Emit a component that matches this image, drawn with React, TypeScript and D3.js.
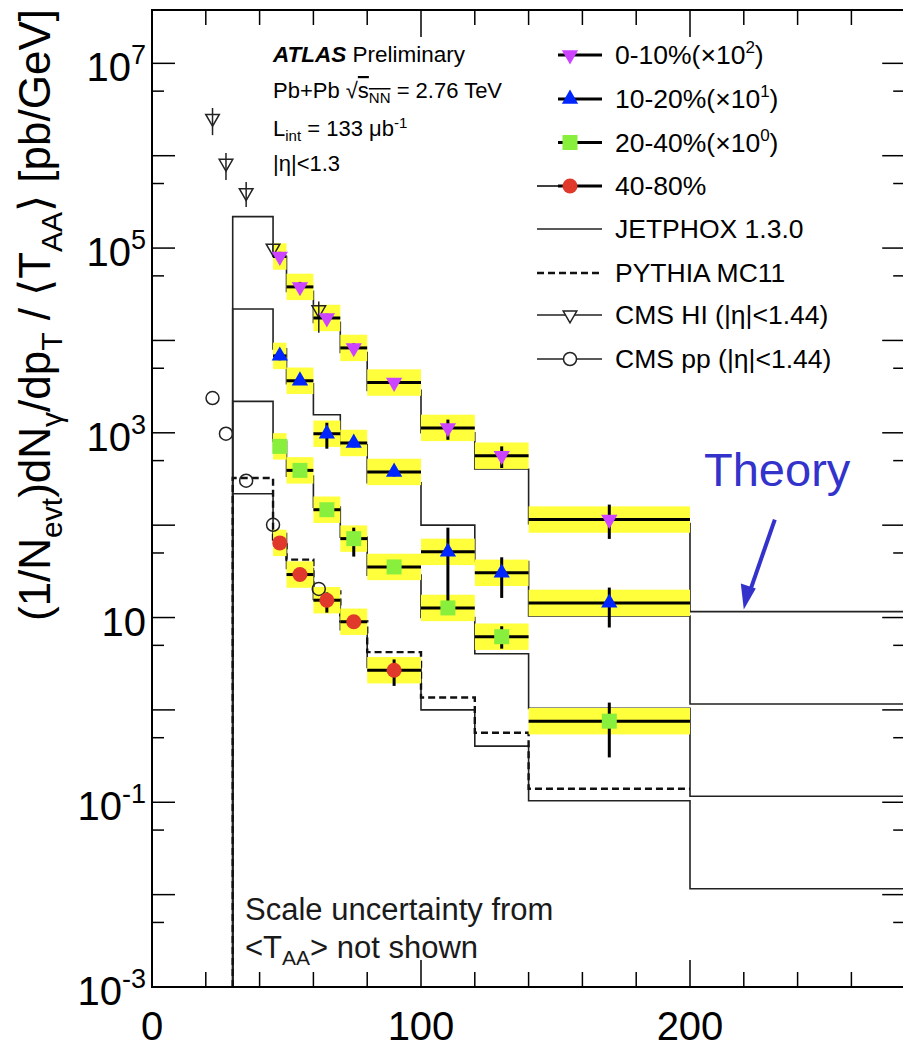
import React from "react";
import * as d3 from "d3";

// ATLAS pT bins (GeV)
const binLo = [45, 50, 60, 70, 80, 100, 120, 140];
const binHi = [50, 60, 70, 80, 100, 120, 140, 200];

// 0-10% (x10^2)
const cent0 = [8.1e4, 3.8e4, 1.75e4, 8.3e3, 3.5e3, 1.13e3, 565, 115];
const cent0Lo = [7.2e4, 3.4e4, 1.55e4, 7.4e3, 3.1e3, 840, 416, 71];
const cent0Hi = [9.1e4, 4.3e4, 1.95e4, 9.3e3, 3.9e3, 1390, 713, 167];
// 10-20% (x10^1)
const cent1 = [6.8e3, 3.66e3, 977, 776, 377, 51.4, 30.5, 14.4];
const cent1Lo = [6.1e3, 3.3e3, 673, 695, 337, 12, 16.3, 7.8];
const cent1Hi = [7.6e3, 4.1e3, 1285, 870, 422, 94, 44.9, 21.1];
// 20-40% (x10^0)
const cent2 = [713, 392, 147, 71.5, 35.3, 12.7, 6.2, 0.755];
const cent2Lo = [640, 350, 131, 45.7, 31.5, 11.3, 4.6, 0.306];
const cent2Hi = [800, 440, 165, 94, 39.5, 14.2, 8.05, 1.2];
// 40-80%
const cent3 = [64.3, 29.2, 15.4, 9.0, 2.69];
const cent3Lo = [57, 26, 11.3, 8.0, 1.82];
const cent3Hi = [72, 32.7, 18.7, 10.1, 3.52];

// systematic band (multiplicative)
const sysFactor = 1.39;

// CMS points
const cmsPt = [22.5, 27.5, 35, 45, 62];
const cmsHI = [2.54e6, 8.28e5, 3.98e5, 9.98e4, 2.15e4];
const cmsHILo = [1.67e6, 5.47e5, 2.79e5, 8.9e4, 1.21e4];
const cmsHIHi = [3.29e6, 1.07e6, 5.2e5, 1.12e5, 2.64e4];
const cmsPP = [2380, 977, 303, 101, 20.4];

// theory histograms
const thEdges = [30, 45, 50, 60, 70, 80, 100, 120, 140, 200, 280];
const jetphox = [2190, 810, 340, 157, 74, 28.8, 10.0, 4.05, 1.04, 0.116];
const jetphoxScale = [100, 10, 1, 0.1];
const pyEdges = [30, 45, 50, 60, 70, 80, 100, 120, 140, 200];
const pythia = [324, 62, 42.4, 19.2, 9.1, 4.22, 1.36, 0.566, 0.14];

const xTicks = d3.range(0, 281, 20);
const yDecades = d3.range(-3, 8);
const yLabelExp = [7, 5, 3, 1, -1, -3];

const FONT = "'Liberation Sans', Arial, Helvetica, sans-serif";
const YELLOW = "#ffff3c";

const series = [
  { vals: cent0, lo: cent0Lo, hi: cent0Hi, color: "#cc44ff", shape: "down", label: "0-10%(\u00d710", sup: "2" },
  { vals: cent1, lo: cent1Lo, hi: cent1Hi, color: "#0026ff", shape: "up", label: "10-20%(\u00d710", sup: "1" },
  { vals: cent2, lo: cent2Lo, hi: cent2Hi, color: "#88f03c", shape: "square", label: "20-40%(\u00d710", sup: "0" },
  { vals: cent3, lo: cent3Lo, hi: cent3Hi, color: "#e0382a", shape: "circle", label: "40-80%", sup: null },
];

function Marker({ shape, cx, cy, color }: any) {
  if (shape === "circle") return <circle cx={cx} cy={cy} r={7.5} fill={color} />;
  if (shape === "square") return <rect x={cx - 7.5} y={cy - 7.5} width={15} height={15} fill={color} />;
  const d = d3.symbol(d3.symbolTriangle, 115)() as string;
  const rot = shape === "down" ? 180 : 0;
  return <path d={d} transform={`translate(${cx},${cy}) rotate(${rot})`} fill={color} />;
}

export default function App() {
  const x = d3.scaleLinear().domain([0, 280]).range([152, 905.2]);
  const y = d3.scaleLog().domain([1e-3, 3.78e7]).range([987, 10]);
  const [x0, x1] = x.range();
  const [yb, yt] = y.range();

  const stepLine = (edges: number[], vals: number[], k: number) => {
    const pts: [number, number][] = [[x(edges[0]), yb]];
    vals.forEach((v, i) => {
      pts.push([x(edges[i]), y(v * k)]);
      pts.push([x(edges[i + 1]), y(v * k)]);
    });
    return d3.line()(pts) as string;
  };

  const triDown = d3.symbol(d3.symbolTriangle, 80)() as string;

  const legendRows = [55, 99, 142.5, 186, 229, 273, 315, 359];
  const lgX0 = 537, lgX1 = 602, lgM = 570, lgT = 615;

  return (
    <svg width={903} height={1047} style={{ position: "absolute", left: 0, top: 0, background: "#fff" }} fontFamily={FONT}>
      {/* theory */}
      {jetphoxScale.map((k, i) => (
        <path key={"j" + i} d={stepLine(thEdges, jetphox, k)} fill="none" stroke="#222" strokeWidth={1.6} />
      ))}
      <path d={stepLine(pyEdges, pythia, 1)} fill="none" stroke="#111" strokeWidth={2.4} strokeDasharray="7 4" />

      {/* systematic boxes */}
      {series.map((s, si) =>
        s.vals.map((v, i) => (
          <rect key={`b${si}-${i}`} x={x(binLo[i])} width={x(binHi[i]) - x(binLo[i])}
            y={y(v * sysFactor)} height={y(v / sysFactor) - y(v * sysFactor)} fill={YELLOW} />
        ))
      )}

      {/* CMS */}
      {cmsPt.map((p, i) => (
        <g key={"ch" + i} stroke="#222" strokeWidth={1.5} fill="none">
          <line x1={x(p)} x2={x(p)} y1={y(cmsHIHi[i])} y2={y(cmsHILo[i])} />
          <path d={triDown} transform={`translate(${x(p)},${y(cmsHI[i])}) rotate(180)`} fill="#fff" fillOpacity={0} />
          <circle cx={x(p)} cy={y(cmsPP[i])} r={6.5} />
        </g>
      ))}

      {/* error bars + markers */}
      {series.map((s, si) =>
        s.vals.map((v, i) => {
          const cx = x((binLo[i] + binHi[i]) / 2);
          return (
            <g key={`e${si}-${i}`}>
              <line x1={x(binLo[i])} x2={x(binHi[i])} y1={y(v)} y2={y(v)} stroke="#000" strokeWidth={3} />
              <line x1={cx} x2={cx} y1={y(s.hi[i])} y2={y(s.lo[i])} stroke="#000" strokeWidth={3} />
              <Marker shape={s.shape} cx={cx} cy={y(v)} color={s.color} />
            </g>
          );
        })
      )}

      {/* frame */}
      <rect x={x0} y={yt} width={x1 - x0} height={yb - yt} fill="none" stroke="#000" strokeWidth={2} />
      {xTicks.map((t) => {
        const len = t % 100 === 0 ? 27 : 15;
        return (
          <g key={"xt" + t} stroke="#000" strokeWidth={1.5}>
            <line x1={x(t)} x2={x(t)} y1={yb} y2={yb - len} />
            <line x1={x(t)} x2={x(t)} y1={yt} y2={yt + len} />
          </g>
        );
      })}
      {yDecades.map((e) => (
        <g key={"yt" + e} stroke="#000" strokeWidth={1.5}>
          <line x1={x0} x2={x0 + 23} y1={y(10 ** e)} y2={y(10 ** e)} />
          <line x1={x1} x2={x1 - 23} y1={y(10 ** e)} y2={y(10 ** e)} />
          {5 * 10 ** e < 3.78e7 && (
            <>
              <line x1={x0} x2={x0 + 12} y1={y(5 * 10 ** e)} y2={y(5 * 10 ** e)} />
              <line x1={x1} x2={x1 - 12} y1={y(5 * 10 ** e)} y2={y(5 * 10 ** e)} />
            </>
          )}
        </g>
      ))}

      {/* tick labels */}
      {[0, 100, 200].map((t) => (
        <text key={"xl" + t} x={x(t)} y={1040} fontSize={40} textAnchor="middle" fill="#000">{t}</text>
      ))}
      {yLabelExp.map((e) => (
        <text key={"yl" + e} x={146} y={y(10 ** e) + 18} fontSize={40} textAnchor="end" fill="#000">
          10{e !== 1 && <tspan dy={-17} fontSize={27}>{e}</tspan>}
        </text>
      ))}

      {/* y axis title */}
      <text transform="translate(50,315) rotate(-90)" fontSize={44} textAnchor="middle" fill="#000">
        (1/N<tspan dy={12} fontSize={30}>evt</tspan><tspan dy={-12}>)dN</tspan>
        <tspan dy={12} fontSize={30}>γ</tspan><tspan dy={-12}>/dp</tspan>
        <tspan dy={12} fontSize={30}>T</tspan><tspan dy={-12}> / ⟨T</tspan>
        <tspan dy={12} fontSize={30}>AA</tspan><tspan dy={-12}>⟩ [pb/GeV]</tspan>
      </text>

      {/* ATLAS label */}
      <text x={273} y={62} fontSize={22.5} fill="#000">
        <tspan fontWeight="bold" fontStyle="italic">ATLAS</tspan> Preliminary
      </text>
      <text x={273} y={98} fontSize={22} fill="#000">
        Pb+Pb √<tspan textDecoration="overline">s</tspan>
        <tspan dy={5} fontSize={15} textDecoration="overline">NN</tspan>
        <tspan dy={-5}> = 2.76 TeV</tspan>
      </text>
      <text x={273} y={136} fontSize={22} fill="#000">
        L<tspan dy={5} fontSize={15}>int</tspan><tspan dy={-5}> = 133 μb</tspan>
        <tspan dy={-8} fontSize={15}>-1</tspan>
      </text>
      <text x={273} y={171} fontSize={22} fill="#000">|η|&lt;1.3</text>

      {/* legend */}
      {series.map((s, i) => (
        <g key={"lg" + i}>
          {s.shape === "circle" && <line x1={lgX0} x2={lgX1} y1={legendRows[i]} y2={legendRows[i]} stroke="#000" strokeWidth={1.5} />}
          <line x1={558} x2={lgX1} y1={legendRows[i]} y2={legendRows[i]} stroke="#000" strokeWidth={3} />
          <Marker shape={s.shape} cx={lgM} cy={legendRows[i]} color={s.color} />
          <text x={lgT} y={legendRows[i] + 9} fontSize={26.5} fill="#000">
            {s.label}
            {s.sup && <><tspan dy={-11} fontSize={17}>{s.sup}</tspan><tspan dy={11}>)</tspan></>}
          </text>
        </g>
      ))}
      <line x1={lgX0} x2={lgX1} y1={legendRows[4]} y2={legendRows[4]} stroke="#222" strokeWidth={1.6} />
      <text x={lgT} y={legendRows[4] + 9} fontSize={26.5}>JETPHOX 1.3.0</text>
      <line x1={lgX0} x2={lgX1} y1={legendRows[5]} y2={legendRows[5]} stroke="#111" strokeWidth={2.4} strokeDasharray="7 4" />
      <text x={lgT} y={legendRows[5] + 9} fontSize={26.5}>PYTHIA MC11</text>
      <line x1={lgX0} x2={lgX1} y1={legendRows[6]} y2={legendRows[6]} stroke="#222" strokeWidth={1.5} />
      <path d={triDown} transform={`translate(${lgM},${legendRows[6]}) rotate(180)`} fill="#fff" stroke="#222" strokeWidth={1.5} />
      <text x={lgT} y={legendRows[6] + 9} fontSize={26.5}>CMS HI (|η|&lt;1.44)</text>
      <line x1={lgX0} x2={lgX1} y1={legendRows[7]} y2={legendRows[7]} stroke="#222" strokeWidth={1.5} />
      <circle cx={lgM} cy={legendRows[7]} r={6.5} fill="#fff" stroke="#222" strokeWidth={1.5} />
      <text x={lgT} y={legendRows[7] + 9} fontSize={26.5}>CMS pp (|η|&lt;1.44)</text>

      {/* annotations */}
      <text x={704} y={486} fontSize={47} fill="#3333cc">Theory</text>
      <line x1={x(220) + 31} y1={y(jetphox[9] * 100) - 92} x2={x(220) + 6} y2={y(jetphox[9] * 100) - 20}
        stroke="#3333cc" strokeWidth={4} />
      <path d={`M${x(220)},${y(jetphox[9] * 100) - 2} l-3,-26 l15,5 z`} fill="#3333cc" />
      <text x={245} y={920} fontSize={31} fill="#1a1a1a">Scale uncertainty from</text>
      <text x={245} y={958} fontSize={31} fill="#1a1a1a">
        &lt;T<tspan dy={7} fontSize={21}>AA</tspan><tspan dy={-7}>&gt; not shown</tspan>
      </text>
    </svg>
  );
}
